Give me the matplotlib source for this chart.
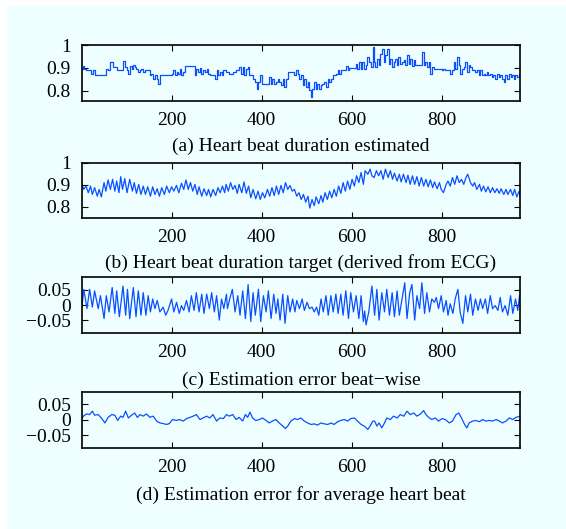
import matplotlib
matplotlib.use("Agg")
import matplotlib.pyplot as plt
from matplotlib.patches import Rectangle

plt.rcParams['font.family'] = ['Liberation Serif', 'DejaVu Serif']

# ---------------- data ----------------
a_pts = [(1,.897),(4,.909),(6,.897),(9,.890),(18,.890),(22,.875),(26,.890),(30,.868),(37,.868),(54,.897),
 (59,.890),(64,.926),(70,.904),(79,.890),(92,.929),(96,.904),(100,.890),(104,.875),(107,.909),(111,.897),
 (115,.914),(118,.904),(122,.897),(126,.883),(130,.890),(133,.897),(137,.883),(141,.890),(152,.868),(155,.875),
 (159,.854),(163,.868),(167,.854),(170,.832),(174,.868),(200,.875),(204,.890),(207,.868),(211,.883),(215,.875),
 (218,.897),(222,.868),(226,.883),(229,.909),(252,.868),(255,.897),(259,.883),(263,.900),(266,.875),(270,.890),
 (274,.883),(278,.897),(281,.875),(285,.868),(296,.854),(300,.890),(304,.868),(307,.883),(311,.868),(315,.890),
 (322,.883),(328,.875),(336,.883),(343,.890),(350,.904),(354,.875),(358,.904),(361,.868),(365,.897),(369,.904),
 (373,.868),(380,.854),(386,.839),(389,.810),(393,.839),(396,.868),(400,.832),(417,.861),(421,.832),(424,.854),
 (428,.832),(432,.839),(436,.854),(439,.839),(443,.825),(447,.854),(450,.817),(454,.854),(458,.883),(472,.868),
 (476,.890),(480,.875),(484,.854),(487,.868),(491,.825),(495,.854),(498,.817),(502,.839),(506,.803),(510,.774),
 (513,.810),(517,.839),(521,.810),(524,.832),(528,.810),(532,.825),(535,.832),(539,.839),(543,.817),(547,.854),
 (550,.839),(554,.854),(558,.868),(565,.875),(569,.890),(572,.875),(576,.890),(587,.909),(591,.890),(595,.900),
 (610,.919),(613,.897),(617,.926),(621,.897),(624,.926),(628,.897),(632,.912),(635,.948),(639,.926),(643,.904),
 (647,.991),(649,.926),(652,.904),(656,.941),(660,.912),(664,.962),(667,.984),(671,.926),(675,.955),(678,.984),
 (682,.919),(686,.941),(690,.904),(693,.926),(697,.941),(701,.912),(704,.948),(708,.919),(712,.926),(716,.933),
 (719,.912),(723,.955),(727,.919),(730,.941),(734,.909),(738,.933),(741,.912),(756,.970),(760,.912),(764,.926),
 (767,.904),(771,.926),(775,.875),(778,.904),(782,.897),(801,.890),(804,.897),(808,.890),(819,.875),(823,.890),
 (827,.926),(830,.897),(834,.948),(838,.912),(841,.875),(845,.897),(849,.904),(852,.926),(856,.883),(860,.912),
 (864,.904),(867,.890),(875,.883),(878,.890),(882,.868),(886,.890),(890,.868),(893,.875),(897,.868),(901,.883),
 (904,.868),(908,.875),(912,.861),(915,.868),(919,.854),(923,.875),(927,.861),(930,.868),(934,.854),(938,.839),
 (941,.868),(945,.854),(949,.875),(953,.861),(956,.868),(960,.854),(964,.868),(967,.861),(971,.875),(974,.868)]

b_pts = [(1,.903),(5,.880),(10,.895),(15,.865),(20,.895),(24,.857),(29,.888),(35,.849),(39,.880),(44,.846),
 (50,.911),(54,.872),(59,.923),(64,.880),(69,.926),(74,.872),(78,.918),(83,.865),(87,.938),(91,.880),
 (96,.929),(101,.865),(107,.926),(113,.872),(117,.911),(122,.862),(127,.903),(132,.857),(137,.895),(142,.857),
 (147,.892),(153,.849),(158,.892),(163,.857),(168,.883),(173,.849),(178,.888),(184,.857),(189,.895),(195,.865),
 (200,.892),(205,.872),(211,.898),(216,.865),(222,.908),(227,.880),(232,.923),(237,.880),(242,.911),(247,.872),
 (252,.903),(257,.857),(261,.892),(267,.849),(272,.883),(278,.852),(282,.880),(287,.846),(292,.880),(298,.852),
 (303,.888),(308,.865),(313,.895),(318,.865),(321,.903),(326,.872),(331,.911),(336,.880),(341,.898),(346,.862),
 (350,.903),(356,.865),(361,.914),(366,.862),(371,.895),(376,.842),(381,.880),(387,.837),(392,.872),(397,.834),
 (402,.865),(407,.842),(413,.880),(418,.849),(423,.888),(428,.852),(433,.895),(438,.857),(443,.898),(448,.865),
 (453,.911),(458,.880),(463,.898),(468,.872),(473,.880),(478,.849),(483,.865),(488,.834),(493,.857),(498,.822),
 (503,.849),(507,.795),(512,.834),(517,.806),(521,.846),(527,.815),(532,.852),(536,.822),(541,.865),(546,.834),
 (551,.872),(556,.842),(561,.880),(566,.849),(571,.895),(576,.862),(581,.911),(586,.872),(591,.918),(596,.880),
 (601,.926),(606,.895),(611,.942),(616,.911),(621,.957),(626,.903),(630,.965),(636,.949),(641,.972),(645,.942),
 (650,.934),(655,.965),(660,.942),(665,.965),(670,.926),(675,.972),(681,.934),(686,.965),(691,.926),(695,.954),
 (701,.918),(706,.949),(710,.914),(715,.949),(721,.911),(725,.945),(730,.903),(735,.942),(740,.903),(745,.938),
 (750,.895),(755,.934),(760,.895),(765,.926),(770,.892),(775,.923),(780,.888),(784,.914),(790,.883),(795,.911),
 (799,.880),(804,.865),(810,.903),(814,.918),(819,.895),(824,.934),(829,.903),(834,.942),(839,.911),(844,.926),
 (849,.903),(854,.934),(858,.949),(864,.911),(869,.895),(873,.911),(878,.880),(884,.903),(888,.872),(893,.895),
 (898,.869),(903,.892),(908,.865),(913,.888),(918,.865),(923,.883),(928,.862),(932,.883),(938,.857),(943,.880),
 (947,.857),(953,.880),(958,.852),(962,.880),(967,.846),(972,.872),(974,.850)]

c_pts = [(1,-.005),(5,.052),(12,-.012),(18,.052),(24,-.007),(29,.047),(37,-.012),(42,.031),(50,-.045),(55,.031),
 (61,-.023),(68,.058),(74,-.028),(78,.047),(84,-.039),(92,.063),(98,-.034),(102,.052),(107,-.045),(115,.058),
 (121,-.039),(126,.047),(132,-.034),(137,.041),(143,-.034),(148,.031),(153,-.023),(158,.020),(163,-.012),(168,.015),
 (174,-.023),(181,-.007),(187,-.034),(192,-.018),(200,.020),(205,-.023),(211,.009),(217,-.028),(222,-.002),(227,-.018),
 (233,.015),(239,-.023),(244,.031),(250,-.018),(255,.041),(261,-.023),(267,.036),(272,-.028),(278,.036),(284,-.012),
 (289,.041),(295,-.023),(300,.031),(306,-.050),(311,.020),(316,-.012),(322,.036),(324,-.012),(330,.025),(335,.052),
 (341,-.023),(347,.031),(352,-.034),(358,.047),(364,-.045),(370,.068),(376,-.055),(381,.041),(386,-.034),(393,.052),
 (398,-.055),(404,.031),(410,-.023),(415,.047),(421,-.045),(427,.036),(432,-.028),(436,.020),(441,-.050),(447,.036),
 (452,-.061),(458,.031),(463,-.023),(469,.020),(474,-.023),(478,.015),(484,-.012),(490,.020),(495,-.018),(501,.009),
 (506,-.012),(512,-.007),(517,-.023),(522,-.007),(527,-.034),(532,.020),(537,-.023),(543,.031),(548,-.034),(554,.031),
 (559,-.023),(565,.036),(570,-.028),(576,.036),(581,-.034),(587,.047),(593,-.045),(598,.041),(604,-.023),(610,.031),
 (616,-.045),(621,.031),(626,-.055),(629,-.020),(632,-.066),(638,-.023),(645,.063),(651,-.034),(656,.052),(661,-.050),
 (667,.041),(673,-.023),(678,.052),(684,-.034),(690,.041),(695,-.039),(701,.047),(706,-.034),(712,.020),(718,.074),
 (723,-.045),(729,.041),(734,.068),(740,-.050),(745,.031),(751,-.012),(756,.074),(762,-.028),(767,.041),(773,-.023),
 (778,.020),(784,.009),(788,.025),(793,-.012),(799,.031),(804,-.023),(810,.015),(814,-.034),(819,.004),(825,-.028),
 (830,.020),(836,.052),(841,-.023),(847,-.061),(853,.031),(858,-.023),(864,.036),(869,-.034),(875,.020),(881,-.018),
 (886,.020),(891,-.012),(897,.020),(902,-.028),(908,.031),(913,-.012),(919,-.002),(925,-.018),(930,.025),(935,-.023),
 (941,-.002),(947,-.034),(953,.031),(958,-.028),(964,.020),(969,-.018),(973,.031),(974,.009)]

d_pts = [(1,.003),(4,.011),(11,.018),(18,.016),(24,.027),(29,.014),(37,.016),(44,.005),(52,-.011),(59,.007),
 (67,.016),(74,.014),(80,-.003),(87,.011),(92,.007),(98,.027),(104,.005),(111,.014),(118,.021),(124,.007),
 (130,.016),(137,.011),(144,.018),(152,.007),(159,.011),(167,-.005),(174,-.011),(181,-.013),(189,-.016),(195,-.013),
 (202,.000),(211,-.003),(218,.000),(226,-.005),(233,.003),(241,.007),(248,.011),(255,.016),(263,.000),(270,.005),
 (278,.011),(285,.005),(292,.016),(300,-.005),(307,.005),(315,.003),(322,.016),(328,.011),(336,.016),(343,.000),
 (350,.007),(358,-.005),(364,.016),(369,.007),(374,.024),(380,.005),(387,-.003),(395,.000),(402,.005),(410,-.003),
 (417,-.011),(424,-.005),(432,.000),(439,-.011),(447,-.021),(453,-.029),(458,-.021),(465,-.005),(473,.003),(480,.000),
 (487,.005),(495,-.005),(502,-.011),(510,-.016),(517,-.014),(524,-.018),(532,-.011),(539,-.014),(547,-.016),(554,-.011),
 (561,-.016),(569,-.007),(576,-.003),(584,.000),(591,-.005),(598,.003),(606,.005),(613,-.005),(621,-.016),(628,-.021),
 (636,-.032),(641,-.021),(647,-.005),(651,-.005),(656,-.021),(661,-.011),(667,-.027),(673,-.011),(678,.005),(686,.000),
 (693,.011),(701,.005),(708,.016),(716,.011),(723,.027),(730,.016),(738,.021),(745,.011),(753,.018),(760,.029),
 (765,.016),(771,.007),(778,.000),(786,.005),(793,-.005),(801,.003),(808,.000),(817,-.011),(824,-.005),(832,.016),
 (838,.021),(844,.005),(851,-.016),(856,-.027),(861,-.011),(869,-.005),(876,-.003),(884,-.007),(891,.000),(898,-.005),
 (906,-.003),(913,-.005),(921,.000),(928,-.005),(935,-.011),(943,-.005),(950,.005),(958,.000),(965,.007),(974,.011)]

captions = ["(a) Heart beat duration estimated",
            "(b) Heart beat duration target (derived from ECG)",
            "(c) Estimation error beat\u2212wise",
            "(d) Estimation error for average heart beat"]
x_ticks = [200, 400, 600, 800]
y_ticks_dur = [0.8, 0.9, 1.0]
y_labels_dur = ["0.8", "0.9", "1"]
y_ticks_err = [-0.05, 0.0, 0.05]
y_labels_err = ["\u22120.05", "0", "0.05"]

# ---------------- layout ----------------
W, H = 566, 529
BG = '#efffff'
LINE = '#0a4fff'
fig = plt.figure(figsize=(W/100, H/100), dpi=100, facecolor='white')
fig.patches.append(Rectangle((7/W, 0), 1 - 7/W, 1 - 6/H, transform=fig.transFigure,
                             facecolor=BG, edgecolor='none', zorder=-10))

# (top_px, bottom_px, ylim, caption_center_px)
panels = [
    (45, 101, (0.756, 1.0), 146, a_pts, 'steps-post', y_ticks_dur, y_labels_dur),
    (163, 218, (0.75, 1.0), 263, b_pts, 'default', y_ticks_dur, y_labels_dur),
    (277, 333, (-0.093, 0.093), 380, c_pts, 'default', y_ticks_err, y_labels_err),
    (392, 448, (-0.092, 0.089), 495, d_pts, 'default', y_ticks_err, y_labels_err),
]
left_px, right_px = 82, 520
for top, bot, ylim, cap_y, pts, ds, yt, yl in panels:
    ax = fig.add_axes([left_px/W, 1 - bot/H, (right_px-left_px)/W, (bot-top)/H])
    ax.set_facecolor(BG)
    xs = [p[0] for p in pts]
    ys = [p[1] for p in pts]
    ax.plot(xs, ys, color=LINE, lw=0.9, drawstyle=ds)
    ax.set_xlim(1, 974)
    ax.set_ylim(*ylim)
    ax.set_xticks(x_ticks)
    ax.set_xticklabels([str(t) for t in x_ticks])
    ax.set_yticks(yt)
    ax.set_yticklabels(yl)
    ax.tick_params(direction='in', length=4, width=0.8, top=True, right=True,
                   labelsize=14, colors='black')
    ax.tick_params(axis='x', pad=8)
    ax.tick_params(axis='y', pad=8)
    for s in ax.spines.values():
        s.set_linewidth(1.2)
    fig.text((left_px + right_px) / 2 / W, 1 - cap_y / H, captions[panels.index((top, bot, ylim, cap_y, pts, ds, yt, yl))],
             ha='center', va='center', fontsize=14)

fig.savefig('out.png', dpi=100, facecolor=fig.get_facecolor())
